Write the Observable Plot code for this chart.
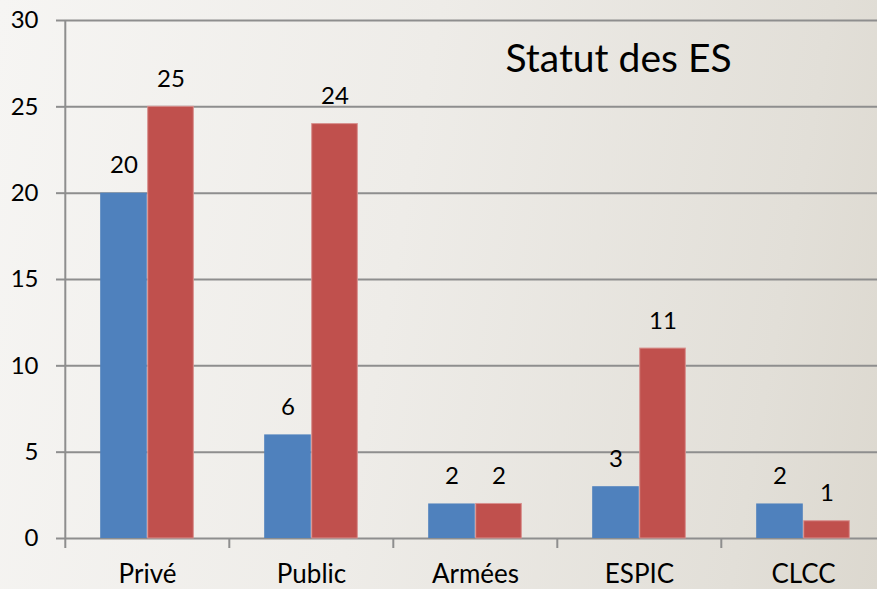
<!DOCTYPE html>
<html>
<head>
<meta charset="utf-8">
<script src="https://cdn.jsdelivr.net/npm/d3@7"></script>
<script src="https://cdn.jsdelivr.net/npm/@observablehq/plot@0.6"></script>
<style>
  html, body { margin: 0; padding: 0; }
  body { width: 877px; height: 589px; overflow: hidden; background: #eeece8; }
  #chart svg { display: block; }
</style>
</head>
<body>
<div id="chart"></div>
<script>
const categories = ["Privé", "Public", "Armées", "ESPIC", "CLCC"];
const serie1 = [20, 6, 2, 3, 2];
const serie2 = [25, 24, 2, 11, 1];
const yTicks = [0, 5, 10, 15, 20, 25, 30];
const title = "Statut des ES";

const rows1 = categories.map((c, i) => ({cat: c, value: serie1[i]}));
const rows2 = categories.map((c, i) => ({cat: c, value: serie2[i]}));

const W = 877, H = 589;
const left = 64, right = 886;
const step = (right - left) / categories.length;
const barW = step * 0.286;
const gap = (step - 2 * barW) / 2;

const font = "Lato, 'Open Sans', sans-serif";
const gridColor = "#8e8e8e";

const plot = Plot.plot({
  width: W,
  height: H,
  marginTop: 20,
  marginBottom: 51,
  marginLeft: left,
  marginRight: 0,
  style: {
    background: "linear-gradient(100deg, #f6f5f3 0%, #eeece8 45%, #e2dfd8 85%, #dcd8cf 100%)",
    fontFamily: font,
    color: "#000"
  },
  x: {domain: categories, range: [left, right], padding: 0, axis: null, label: null},
  y: {domain: [0, 30], ticks: yTicks, axis: null, label: null},
  marks: [
    Plot.ruleY(yTicks, {y: d => d, stroke: gridColor, strokeWidth: 2}),
    Plot.barY(rows1, {x: "cat", y: "value", fill: "#4f81bd", insetLeft: gap, insetRight: gap + barW}),
    Plot.barY(rows2, {x: "cat", y: "value", fill: "#c0504d", stroke: "#d8908e", strokeWidth: 1, insetLeft: gap + barW + 0.5, insetRight: gap + 0.5}),
    Plot.ruleX([categories[0]], {x: d => d, dx: -step / 2, stroke: gridColor, strokeWidth: 2, insetBottom: -10}),
    Plot.ruleX(categories.slice(1), {x: d => d, y1: 0, y2: 0, dx: -step / 2, stroke: gridColor, strokeWidth: 2, insetBottom: -10}),
    Plot.axisY({ticks: yTicks, tickSize: 8, tickPadding: 18, stroke: gridColor, strokeWidth: 2, fontSize: 24, fill: "#000", strokeOpacity: 1, label: null}),
    Plot.axisX({tickSize: 0, tickPadding: 26, fontSize: 26, fill: "#000", label: null}),
    Plot.text(rows1, {x: "cat", y: "value", text: d => String(d.value), dx: -(barW / 2), dy: -20, lineAnchor: "bottom", fontSize: 24, fill: "#000"}),
    Plot.text(rows2, {x: "cat", y: "value", text: d => String(d.value), dx: barW / 2, dy: -20, lineAnchor: "bottom", fontSize: 24, fill: "#000"}),
    Plot.text([title], {frameAnchor: "top-left", text: d => d, textAnchor: "start", dx: 505 - left, dy: 24, fontSize: 39, fill: "#000", lineAnchor: "top"})
  ]
});
document.getElementById("chart").appendChild(plot);
</script>
</body>
</html>
